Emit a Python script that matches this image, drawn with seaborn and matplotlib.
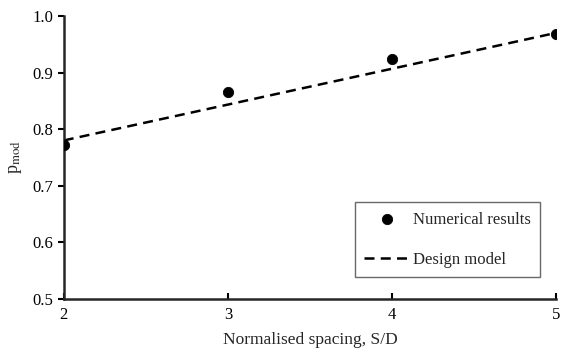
import matplotlib
matplotlib.use("Agg")
import matplotlib.pyplot as plt
import seaborn as sns
import pandas as pd

# values
spacing = [2, 3, 4, 5]
p_mod_numerical = [0.772, 0.865, 0.923, 0.968]
design_spacing = [2, 5]
p_mod_design = [0.780, 0.970]

sns.set_style("ticks")
plt.rcParams['font.family'] = ['Liberation Serif', 'DejaVu Serif']
plt.rcParams['mathtext.fontset'] = 'stix'

df_num = pd.DataFrame({'S/D': spacing, 'p': p_mod_numerical})
df_des = pd.DataFrame({'S/D': design_spacing, 'p': p_mod_design})

fig = plt.figure(figsize=(5.64, 3.53), dpi=100)
ax = fig.add_axes([0.113, 0.153, 0.873, 0.802])

sns.scatterplot(data=df_num, x='S/D', y='p', ax=ax, color='black', s=55,
                edgecolor='black', zorder=3, label='Numerical results')
sns.lineplot(data=df_des, x='S/D', y='p', ax=ax, color='black', lw=1.8,
             linestyle=(0, (4, 2.5)), label='Design model')

ax.set_xlim(2, 5)
ax.set_ylim(0.5, 1.0)
ax.set_xticks([2, 3, 4, 5])
ax.set_yticks([0.5, 0.6, 0.7, 0.8, 0.9, 1.0])
ax.set_yticklabels([f"{v:.1f}" for v in [0.5, 0.6, 0.7, 0.8, 0.9, 1.0]])
ax.tick_params(labelsize=12, length=4, width=1.5, colors='black')
ax.tick_params(axis='x', direction='in', length=4, pad=6)
for s in ['left', 'bottom']:
    ax.spines[s].set_linewidth(1.8)
sns.despine(ax=ax)
ax.set_xlabel('Normalised spacing, S/D', fontsize=12.5, labelpad=6)
ax.set_ylabel(r'p$_{\mathrm{mod}}$', fontsize=13, labelpad=6)

leg = ax.legend(loc='lower right', bbox_to_anchor=(0.967, 0.078), fontsize=12,
                frameon=True, fancybox=False, edgecolor='#444444',
                borderpad=0.55, labelspacing=1.45, handlelength=2.7,
                handletextpad=0.2, borderaxespad=0)
leg.get_frame().set_linewidth(1.0)

fig.savefig('out.png', dpi=100)
